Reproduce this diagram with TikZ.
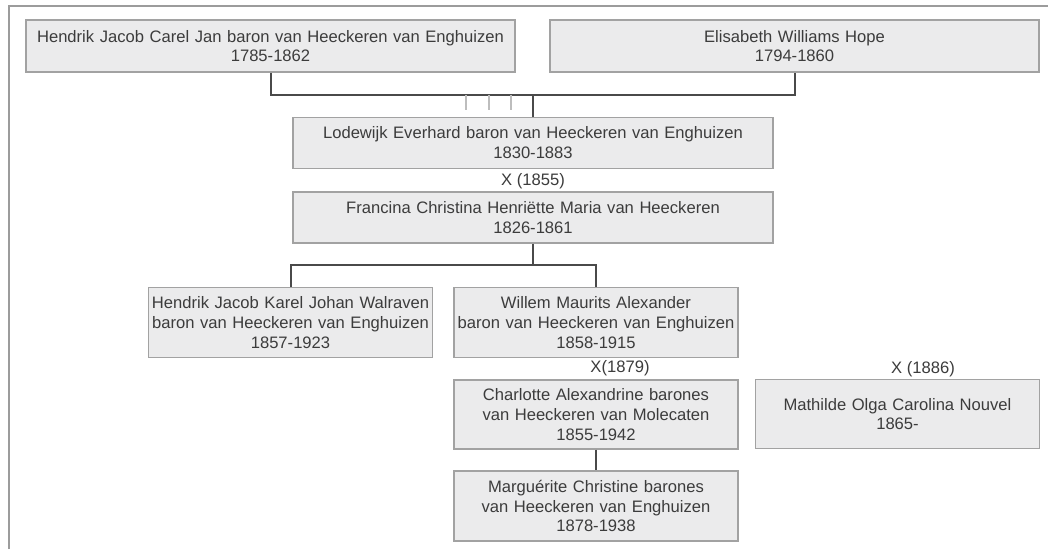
\documentclass[tikz,border=0pt]{standalone}
\usepackage{fontspec}
\setmainfont{Liberation Sans}
\definecolor{boxfill}{HTML}{EBEBEC}
\definecolor{boxline}{HTML}{A2A2A2}
\definecolor{txt}{HTML}{3C3C3C}
\definecolor{conn}{HTML}{4A4A4A}
\definecolor{frame}{HTML}{9C9C9C}
\definecolor{tick}{HTML}{BDBDBD}
\tikzset{
  person/.style={draw=boxline, fill=boxfill, line width=1.3pt, inner sep=0pt,
    align=center, text=txt, font=\fontsize{16.6}{19.6}\selectfont, anchor=center},
  wide/.style={minimum width=489pt, minimum height=52pt, text width=489pt},
  mid/.style={minimum width=480pt, minimum height=51pt, text width=480pt},
  small/.style={minimum width=284pt, minimum height=70pt, text width=284pt},
  link/.style={draw=conn, line width=2pt},
  marr/.style={text=txt, font=\fontsize{16.6}{19.6}\selectfont, inner sep=0pt},
  ticks/.style={draw=tick, line width=1.5pt}
}
\begin{document}
\begin{tikzpicture}[x=1pt,y=-1pt]
\useasboundingbox (0,0) rectangle (1048,549);
\fill[white] (0,0) rectangle (1048,549);
% frame
\draw[frame, line width=2pt] (8.5,549) -- (8.5,6) -- (1048,6);

\node[person, wide] (A) at (270.5,46) {Hendrik Jacob Carel Jan baron van Heeckeren van Enghuizen\\1785-1862};
\node[person, wide] (B) at (794.5,46) {Elisabeth Williams Hope\\1794-1860};
\node[person, mid] (C) at (533,142.7) {Lodewijk Everhard baron van Heeckeren van Enghuizen\\1830-1883};
\node[marr] (m1) at (533,181) {X (1855)};
\node[person, mid] (D) at (533,217.5) {Francina Christina Henriëtte Maria van Heeckeren\\1826-1861};
\node[person, small] (E) at (290.5,322.5) {Hendrik Jacob Karel Johan Walraven\\baron van Heeckeren van Enghuizen\\1857-1923};
\node[person, small] (F) at (596,322.5) {Willem Maurits Alexander\\baron van Heeckeren van Enghuizen\\1858-1915};
\node[marr] (m2) at (620,368) {X(1879)};
\node[person, small, minimum height=69pt] (G) at (596,414.5) {Charlotte Alexandrine barones\\van Heeckeren van Molecaten\\1855-1942};
\node[person, small] (H) at (596,506) {Marguérite Christine barones\\van Heeckeren van Enghuizen\\1878-1938};
\node[marr] (m3) at (923,369) {X (1886)};
\node[person, small, minimum width=283pt, minimum height=69pt] (M) at (897.5,414) {Mathilde Olga Carolina Nouvel\\1865-};

% connectors
\coordinate (pA) at (270.5,95);
\coordinate (pB) at (794.5,95);
\coordinate (pC) at (533,95);
\draw[link] (A.south) -- (pA) -- (pB) -- (B.south);
\draw[link] (pC) -- (C.north);
\draw[ticks] (466,95) -- (466,110) (489,95) -- (489,110) (511,95) -- (511,110);

\coordinate (pD) at (533,265);
\coordinate (pE) at (290.5,265);
\coordinate (pF) at (596,265);
\draw[link] (D.south) -- (pD);
\draw[link] (E.north) -- (pE) -- (pF) -- (F.north);
\draw[link] (G.south) -- (H.north);
\end{tikzpicture}
\end{document}
